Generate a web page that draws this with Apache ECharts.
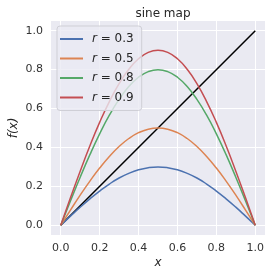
<!DOCTYPE html>
<html lang="en">
<head>
    <meta charset="UTF-8">
    <title>sine map</title>
    <script src="https://cdn.jsdelivr.net/npm/echarts@6/dist/echarts.min.js"></script>
    <style>
        html, body { margin: 0; padding: 0; background: #fff; }
        #app { width: 271px; height: 276px; }
    </style>
</head>
<body>
    <div id="app"></div>
    <script>
        // x samples and the four curves
        let xs = [0, 0.05, 0.1, 0.15, 0.2, 0.25, 0.3, 0.35, 0.4, 0.45, 0.5, 0.55, 0.6, 0.65, 0.7, 0.75, 0.8, 0.85, 0.9, 0.95, 1]
        let r03 = [0, 0.047, 0.093, 0.136, 0.176, 0.212, 0.243, 0.267, 0.285, 0.296, 0.3, 0.296, 0.285, 0.267, 0.243, 0.212, 0.176, 0.136, 0.093, 0.047, 0]
        let r05 = [0, 0.078, 0.155, 0.227, 0.294, 0.354, 0.405, 0.446, 0.476, 0.494, 0.5, 0.494, 0.476, 0.446, 0.405, 0.354, 0.294, 0.227, 0.155, 0.078, 0]
        let r08 = [0, 0.125, 0.247, 0.363, 0.470, 0.566, 0.647, 0.713, 0.761, 0.790, 0.8, 0.790, 0.761, 0.713, 0.647, 0.566, 0.470, 0.363, 0.247, 0.125, 0]
        let r09 = [0, 0.141, 0.278, 0.409, 0.529, 0.636, 0.728, 0.802, 0.856, 0.889, 0.9, 0.889, 0.856, 0.802, 0.728, 0.636, 0.529, 0.409, 0.278, 0.141, 0]
        let diagX = [0, 1]
        let diagY = [0, 1]
        let ticks = [0, 0.2, 0.4, 0.6, 0.8, 1.0]
        let names = ['0.3', '0.5', '0.8', '0.9']
        let colors = ['#4C72B0', '#DD8452', '#55A868', '#C44E52']

        let font = 'DejaVu Sans'
        let mCharts = echarts.init(document.getElementById('app'))

        function pairs(x, y) {
            return x.map((v, i) => [v, y[i]])
        }

        let curves = [r03, r05, r08, r09]
        let series = curves.map((ys, i) => ({
            name: names[i],
            type: 'line',
            data: pairs(xs, ys),
            smooth: true,
            symbol: 'none',
            lineStyle: { width: 1.5, color: colors[i] },
            itemStyle: { color: colors[i] },
            z: 3
        }))
        series.push({
            name: 'diag',
            type: 'line',
            data: pairs(diagX, diagY),
            symbol: 'none',
            lineStyle: { width: 1.5, color: '#000' },
            z: 2
        })

        function axis(name, gap) {
            return {
                type: 'value',
                min: -0.05,
                max: 1.05,
                name: name,
                nameLocation: 'middle',
                nameGap: gap,
                nameMoveOverlap: false,
                nameTextStyle: { fontFamily: font, fontSize: 12, color: '#262626', fontStyle: 'italic' },
                axisLine: { show: false },
                axisTick: { show: false, customValues: ticks },
                axisLabel: {
                    customValues: ticks,
                    fontFamily: font, fontSize: 11, color: '#333',
                    formatter: v => v.toFixed(1)
                },
                splitLine: { show: true, lineStyle: { color: '#fff', width: 1 } }
            }
        }

        let option = {
            animation: false,
            title: {
                text: 'sine map',
                left: 158, top: 3, textAlign: 'center',
                textStyle: { fontFamily: font, fontSize: 12, fontWeight: 'normal', color: '#262626' }
            },
            grid: {
                left: 51, right: 6, top: 21, bottom: 41,
                outerBoundsMode: 'none',
                show: true, backgroundColor: '#EAEAF2', borderWidth: 0
            },
            xAxis: axis('x', 22),
            yAxis: axis('f(x)', 31),
            legend: {
                data: names,
                orient: 'vertical',
                left: 57, top: 26,
                padding: [7, 8, 7, 3],
                itemGap: 7.5,
                icon: 'rect',
                itemWidth: 23,
                itemHeight: 2,
                backgroundColor: 'rgba(234,234,242,0.8)',
                borderColor: '#cfcfd6',
                borderWidth: 1,
                borderRadius: 3,
                formatter: n => '{i|r} = ' + n,
                textStyle: {
                    fontFamily: font, fontSize: 12, color: '#262626', padding: [0, 0, 0, 4],
                    rich: { i: { fontFamily: font, fontSize: 12, fontStyle: 'italic', color: '#262626' } }
                }
            },
            series: series
        }
        mCharts.setOption(option)
    </script>
</body>
</html>
